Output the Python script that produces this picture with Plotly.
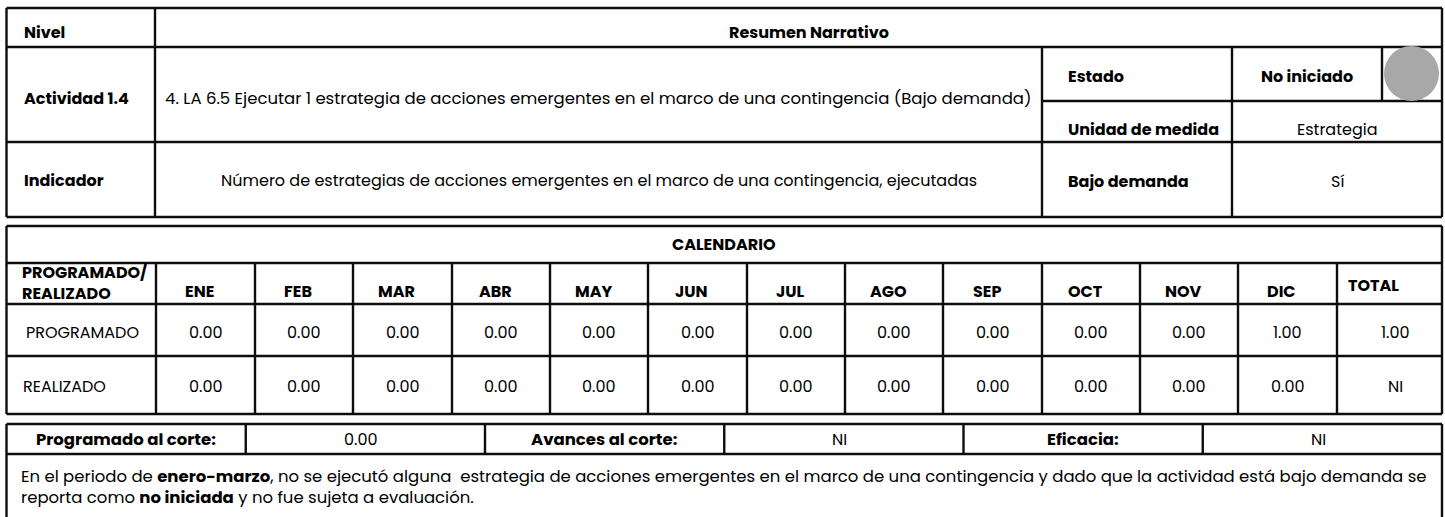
import plotly.graph_objects as go

# ---------------- data ----------------
nivel_label = "Nivel"
resumen_label = "Resumen Narrativo"
actividad = "Actividad 1.4"
actividad_texto = "4. LA 6.5 Ejecutar 1 estrategia de acciones emergentes en el marco de una contingencia (Bajo demanda)"
indicador = "Indicador"
indicador_texto = "Número de estrategias de acciones emergentes en el marco de una contingencia, ejecutadas"
estado_label = "Estado"
estado_valor = "No iniciado"
unidad_label = "Unidad de medida"
unidad_valor = "Estrategia"
bajo_demanda_label = "Bajo demanda"
bajo_demanda_valor = "Sí"

calendario_titulo = "CALENDARIO"
meses = ["ENE", "FEB", "MAR", "ABR", "MAY", "JUN", "JUL", "AGO", "SEP", "OCT", "NOV", "DIC"]
programado = [0.00, 0.00, 0.00, 0.00, 0.00, 0.00, 0.00, 0.00, 0.00, 0.00, 0.00, 1.00]
realizado = [0.00, 0.00, 0.00, 0.00, 0.00, 0.00, 0.00, 0.00, 0.00, 0.00, 0.00, 0.00]
total_programado = "1.00"
total_realizado = "NI"

resumen_labels = ["Programado al corte:", "Avances al corte:", "Eficacia:"]
resumen_valores = ["0.00", "NI", "NI"]
narrativa_lineas = [
    "En el periodo de <b>enero-marzo</b>, no se ejecutó alguna  estrategia de acciones emergentes "
    "en el marco de una contingencia y dado que la actividad está bajo demanda se",
    "reporta como <b>no iniciada</b> y no fue sujeta a evaluación.",
]

# ---------------- layout constants ----------------
W, H = 1445, 517
FONT = "Poppins, Open Sans, sans-serif"
FS = 16
LC = "#0d0d0d"
LW = 2.4

L, R = 6.5, 1442
top_y = [8, 47, 101, 142, 217]
top_x = [L, 155, 1042, 1232, 1382, R]
cal_y = [226, 263, 304, 356, 414]
cal_x = [L, 156, 255, 353, 452, 550, 648, 747, 845, 943, 1042, 1140, 1238, 1337, R]
bot_y = [424, 454]
ncols_bot = 6

shapes = []
annots = []


def line(x0, y0, x1, y1, w=LW):
    shapes.append(dict(type="line", xref="x", yref="y", x0=x0, y0=y0, x1=x1, y1=y1,
                       line=dict(color=LC, width=w)))


def text(x, y, s, bold=False, anchor="center", size=FS, yanchor="middle"):
    if bold:
        s = "<b>" + s + "</b>"
    annots.append(dict(x=x, y=y, xref="x", yref="y", text=s, showarrow=False,
                       xanchor=anchor, yanchor=yanchor, align=anchor if anchor != "center" else "center",
                       font=dict(family=FONT, size=size, color="#000000")))


# ---------------- top table ----------------
line(L, top_y[0], R, top_y[0])
line(L, top_y[1], R, top_y[1])
line(top_x[2], top_y[2], R, top_y[2])
line(L, top_y[3], R, top_y[3])
line(L, top_y[4], R, top_y[4])
line(L, top_y[0], L, top_y[4])
line(R, top_y[0], R, top_y[4])
line(top_x[1], top_y[0], top_x[1], top_y[4])
line(top_x[2], top_y[1], top_x[2], top_y[4])
line(top_x[3], top_y[1], top_x[3], top_y[4])
line(top_x[4], top_y[1], top_x[4], top_y[2])

shapes.append(dict(type="circle", xref="x", yref="y", x0=1384, y0=46, x1=1439, y1=101,
                   fillcolor="#A8A8A8", line=dict(width=0)))

text(22, 32, nivel_label, bold=True, anchor="left")
text((top_x[1] + R) / 2 + 10, 32, resumen_label, bold=True)
text(22, 98, actividad, bold=True, anchor="left")
text(163, 98, actividad_texto, anchor="left", size=16.5)
text(22, 180, indicador, bold=True, anchor="left")
text((top_x[1] + top_x[2]) / 2, 180, indicador_texto)
text(1066, 76, estado_label, bold=True, anchor="left")
text((top_x[3] + top_x[4]) / 2, 76, estado_valor, bold=True)
text(1066, 129, unidad_label, bold=True, anchor="left")
text((top_x[3] + R) / 2, 129, unidad_valor)
text(1066, 181, bajo_demanda_label, bold=True, anchor="left")
text((top_x[3] + R) / 2, 181, bajo_demanda_valor)

# ---------------- calendar ----------------
for y in cal_y:
    line(L, y, R, y)
line(L, cal_y[0], L, cal_y[-1])
line(R, cal_y[0], R, cal_y[-1])
for x in cal_x[1:-1]:
    line(x, cal_y[1], x, cal_y[-1])

text((L + R) / 2, 244, calendario_titulo, bold=True)
text(20, 283, "PROGRAMADO/<br>REALIZADO", bold=True, anchor="left")
for i, m in enumerate(meses):
    cx = (cal_x[i + 1] + cal_x[i + 2]) / 2 - 6
    text(cx, 291, m, bold=True)
text((cal_x[-2] + cal_x[-1]) / 2 - 16, 285, "TOTAL", bold=True)

text(24, 332, "PROGRAMADO", anchor="left")
text(21, 386, "REALIZADO", anchor="left")
for i in range(12):
    cx = (cal_x[i + 1] + cal_x[i + 2]) / 2
    text(cx, 332, f"{programado[i]:.2f}")
    text(cx, 386, f"{realizado[i]:.2f}")
text((cal_x[-2] + cal_x[-1]) / 2 + 6, 332, total_programado)
text((cal_x[-2] + cal_x[-1]) / 2 + 6, 386, total_realizado)

# ---------------- bottom table ----------------
bw = (R - L) / ncols_bot
bx = [L + k * bw for k in range(ncols_bot + 1)]
line(L, bot_y[0], R, bot_y[0])
line(L, bot_y[1], R, bot_y[1])
line(L, bot_y[0], L, H + 5)
line(R, bot_y[0], R, H + 5)
for x in bx[1:-1]:
    line(x, bot_y[0], x, bot_y[1])
for k in range(3):
    text((bx[2 * k] + bx[2 * k + 1]) / 2, 439, resumen_labels[k], bold=True, size=16.5)
    text((bx[2 * k + 1] + bx[2 * k + 2]) / 2 - 4, 439, resumen_valores[k])

text(19, 463, "<br>".join(narrativa_lineas), anchor="left", size=16.5, yanchor="top")

fig = go.Figure()
fig.update_layout(
    width=W, height=H,
    margin=dict(l=0, r=0, t=0, b=0),
    paper_bgcolor="white", plot_bgcolor="white",
    xaxis=dict(range=[0, W], visible=False, fixedrange=True),
    yaxis=dict(range=[H, 0], visible=False, fixedrange=True),
    shapes=shapes, annotations=annots, showlegend=False,
)
fig.write_html("out.html", config=dict(displayModeBar=False),
               post_script="document.body.style.margin='0';document.body.style.overflow='hidden';")
